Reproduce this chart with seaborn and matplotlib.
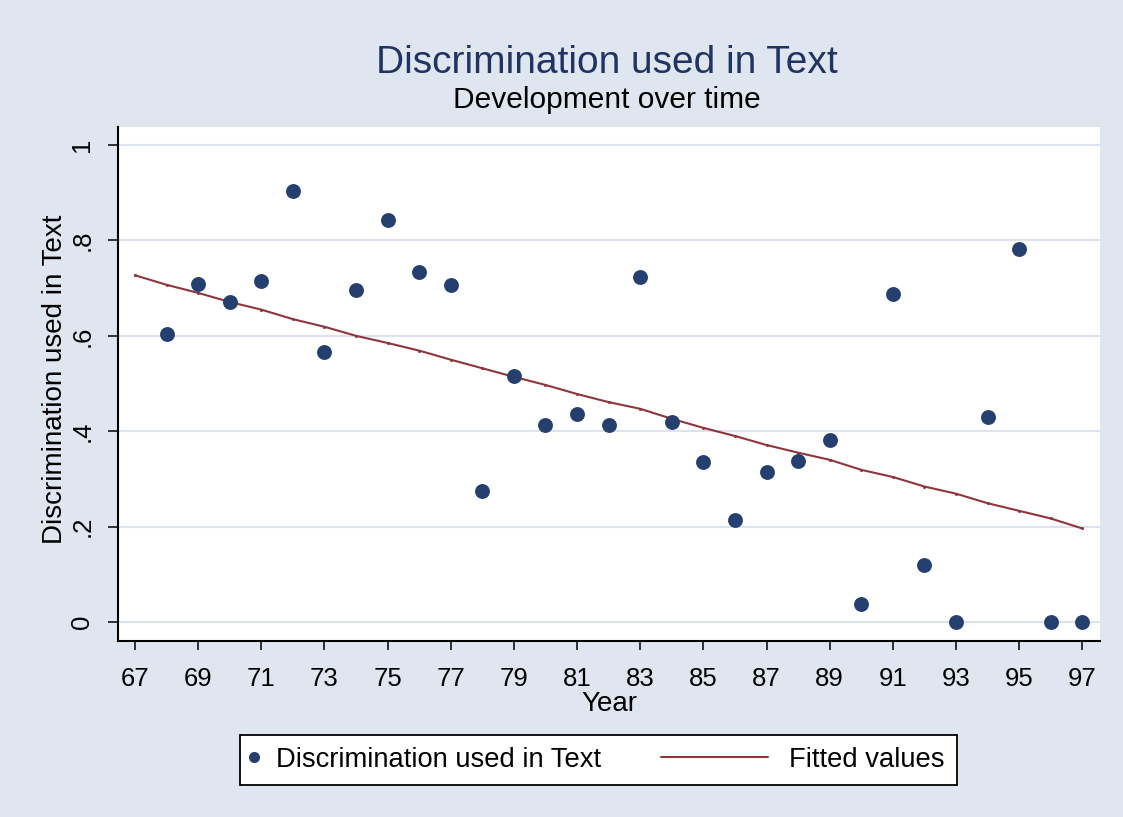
import numpy as np
import pandas as pd
import matplotlib
matplotlib.use("Agg")
import matplotlib.pyplot as plt
import seaborn as sns
from matplotlib.lines import Line2D
from matplotlib.legend_handler import HandlerLine2D

# --- DATA ---
years = list(range(67, 98))
# share of texts using discrimination, no observation for 67
discrimination = [np.nan, 0.604, 0.709, 0.671, 0.716, 0.904, 0.566, 0.696, 0.842, 0.734,
                  0.707, 0.275, 0.515, 0.412, 0.437, 0.412, 0.724, 0.420, 0.335, 0.213,
                  0.315, 0.338, 0.382, 0.037, 0.688, 0.120, 0.0, 0.430, 0.783, 0.0, 0.0]
# fitted values of the linear trend, as drawn
fitted = [0.727, 0.707, 0.690, 0.671, 0.655, 0.635, 0.619, 0.600, 0.585, 0.569,
          0.550, 0.532, 0.514, 0.497, 0.478, 0.461, 0.447, 0.426, 0.407, 0.390,
          0.371, 0.355, 0.340, 0.319, 0.304, 0.284, 0.269, 0.249, 0.233, 0.217, 0.196]
y_ticks = [0, 0.2, 0.4, 0.6, 0.8, 1.0]
y_tick_labels = ["0", ".2", ".4", ".6", ".8", "1"]
x_ticks = list(range(67, 98, 2))

df = pd.DataFrame({"Year": years, "Discrimination": discrimination, "Fitted": fitted})

# --- STYLE ---
bg = "#E0E6F0"
navy = "#25406F"
maroon = "#90353B"
sns.set_theme(style="white")
plt.rcParams["font.family"] = ["Liberation Sans", "DejaVu Sans"]
plt.rcParams["text.color"] = "black"

fig, ax = plt.subplots(figsize=(11.23, 8.17), dpi=100)
fig.patch.set_facecolor(bg)
ax.set_facecolor("white")
fig.subplots_adjust(left=0.105, right=0.9795, top=0.8446, bottom=0.2154)

sns.lineplot(data=df, x="Year", y="Fitted", ax=ax, color=maroon, linewidth=1.5,
             marker="o", markersize=2.2, markeredgewidth=0, zorder=2)
sns.scatterplot(data=df, x="Year", y="Discrimination", ax=ax, color=navy, s=115,
                linewidth=0, zorder=3)

ax.set_xlim(66.46, 97.56)
ax.set_ylim(-0.04, 1.038)
ax.set_yticks(y_ticks)
ax.set_yticklabels(y_tick_labels)
ax.set_xticks(x_ticks)
ax.set_xticklabels([str(x) for x in x_ticks])
ax.yaxis.grid(True, color="#DCE3EE", linewidth=1.5)
ax.set_axisbelow(True)

for side in ["top", "right"]:
    ax.spines[side].set_visible(False)
for side in ["left", "bottom"]:
    ax.spines[side].set_color("black")
    ax.spines[side].set_linewidth(1.5)

ax.tick_params(axis="x", direction="out", length=6.5, width=1.1, pad=12,
               labelsize=18.5, colors="black", bottom=True)
ax.tick_params(axis="y", direction="out", length=7, width=1.1, pad=10,
               labelsize=18.5, colors="black", left=True, labelrotation=90)
for lab in ax.get_yticklabels():
    lab.set_va("center")

ax.set_xlabel("Year", fontsize=20, color="black")
ax.set_ylabel("Discrimination used in Text", fontsize=20, color="black")
ax.xaxis.set_label_coords(0.5, -0.136)
ax.xaxis.label.set_va("baseline")
ax.yaxis.set_label_coords(-0.064, 0.51)
ax.yaxis.label.set_va("center")

fig.text(0.5405, 0.9106, "Discrimination used in Text", fontsize=28, color="#1F3463",
         ha="center", va="baseline")
fig.text(0.5405, 0.8678, "Development over time", fontsize=21.5, color="black",
         ha="center", va="baseline")


# longer line in the legend than the dot's handle box
class LongLine(HandlerLine2D):
    def get_xdata(self, legend, xdescent, ydescent, width, height, fontsize):
        xdata, xdata_marker = super().get_xdata(legend, xdescent, ydescent, width, height, fontsize)
        return np.array([xdata[0] - 3.8 * fontsize, xdata[-1]]), xdata_marker


dot = Line2D([], [], linestyle="none", marker="o", markersize=8, color=navy, markeredgewidth=0)
fit_line = Line2D([], [], color=maroon, linewidth=1.5)
leg = fig.legend([dot, fit_line], ["Discrimination used in Text", "Fitted values"],
                 loc="center", bbox_to_anchor=(0.533, 0.0698), ncol=2, fontsize=19.7,
                 frameon=True, fancybox=False, edgecolor="black", facecolor="white",
                 framealpha=1, handlelength=0.1, handletextpad=0.77, columnspacing=6.0,
                 borderpad=0.45, labelcolor="black", handler_map={fit_line: LongLine()})
leg.get_frame().set_linewidth(1.3)

fig.savefig("out.png", dpi=100, facecolor=bg)
